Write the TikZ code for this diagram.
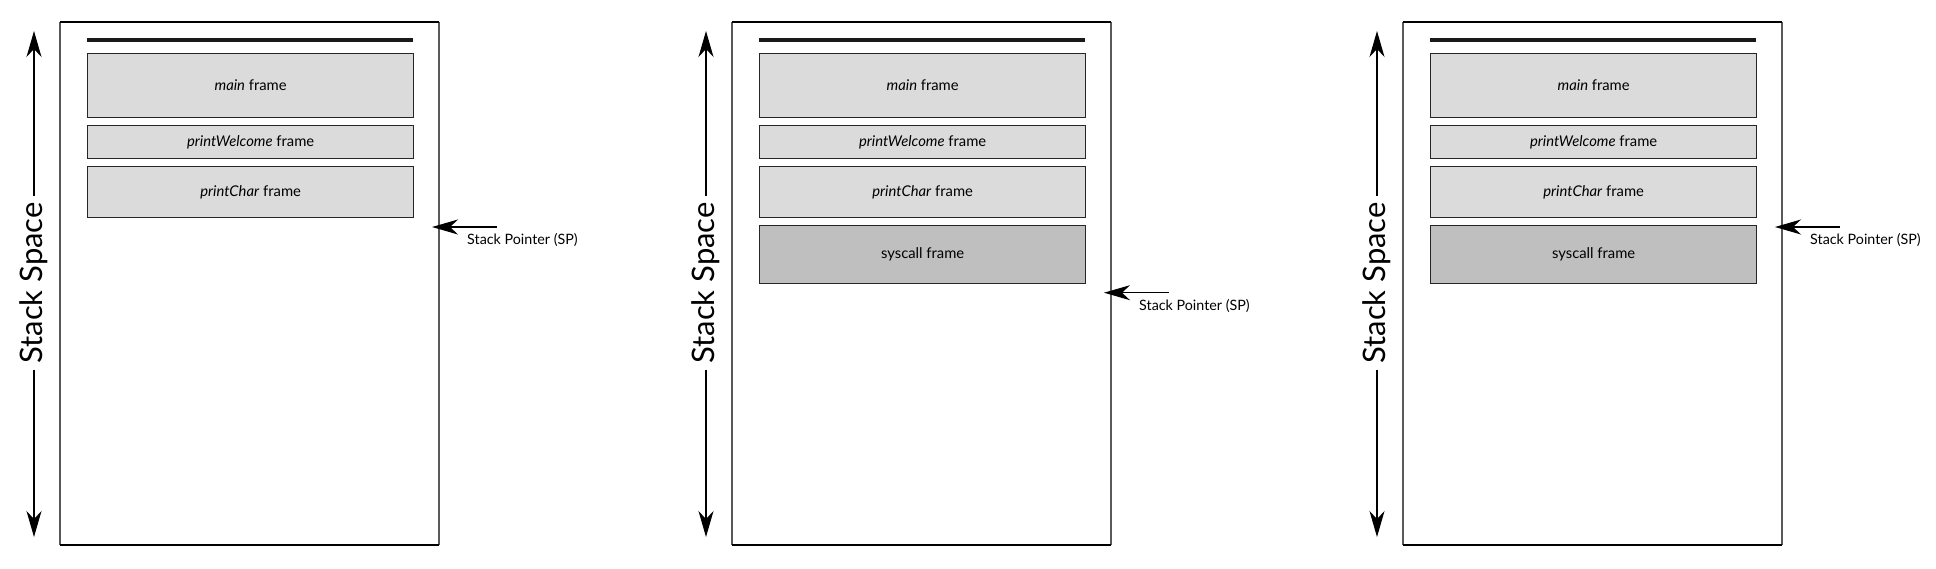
\documentclass[tikz,border=0pt]{standalone}
\usepackage{fontspec}
\setmainfont{Lato}
\usetikzlibrary{arrows.meta}

\begin{document}
\begin{tikzpicture}[x=1pt,y=1pt,
    frame/.style={draw=black!85,line width=1.3pt,fill=black!14,minimum width=326pt,
        anchor=north west,inner sep=0pt,font=\fontsize{14.8}{17}\selectfont},
    sysframe/.style={frame,fill=black!25},
    tip/.style={-{Stealth[length=26pt,width=15pt,inset=8pt]},line width=1.2pt},
    sptext/.style={anchor=west,inner sep=0pt,font=\fontsize{14.3}{17}\selectfont},
    space/.style={rotate=90,inner sep=6pt,font=\fontsize{31}{35}\selectfont}]
    \useasboundingbox (0,0) rectangle (1936,-568);

    % First stage
    \begin{scope}
        \draw[black!65,line width=1.2pt] (60,-22) -- (60,-545) (439,-22) -- (439,-545);
        \draw[line width=2.2pt] (60,-22) -- (439,-22) (60,-545) -- (439,-545);
        \draw[black!90,line width=4pt] (87,-40) -- (413,-40);
        \node[frame,minimum height=64pt] (m1) at (87,-53) {\textit{main} frame};
        \node[frame,minimum height=33pt] (w1) at (87,-125) {\textit{printWelcome} frame};
        \node[frame,minimum height=51pt] (c1) at (87,-166) {\textit{printChar} frame};
        % stack pointer
        \coordinate (sp1) at (432,-227);
        \coordinate (st1) at (497,-227);
        \draw[tip] (st1) -- (sp1);
        \node[sptext] (spl1) at (467,-239.5) {Stack Pointer (SP)};
        % stack space
        \node[space] (ss1) at (34,-283) {Stack Space};
        \coordinate (up1) at (34,-31);
        \coordinate (dn1) at (34,-537);
        \draw[tip] (ss1.east) -- (up1);
        \draw[tip] (ss1.west) -- (dn1);
    \end{scope}

    % Second stage
    \begin{scope}[xshift=672pt]
        \draw[black!65,line width=1.2pt] (60,-22) -- (60,-545) (439,-22) -- (439,-545);
        \draw[line width=2.2pt] (60,-22) -- (439,-22) (60,-545) -- (439,-545);
        \draw[black!90,line width=4pt] (87,-40) -- (413,-40);
        \node[frame,minimum height=64pt] (m2) at (87,-53) {\textit{main} frame};
        \node[frame,minimum height=33pt] (w2) at (87,-125) {\textit{printWelcome} frame};
        \node[frame,minimum height=51pt] (c2) at (87,-166) {\textit{printChar} frame};
        \node[sysframe,minimum height=58pt] (s2) at (87,-225) {syscall frame};
        % stack pointer
        \coordinate (sp2) at (432,-292.7);
        \coordinate (st2) at (497,-292.7);
        \draw[tip] (st2) -- (sp2);
        \node[sptext] (spl2) at (467,-305.5) {Stack Pointer (SP)};
        % stack space
        \node[space] (ss2) at (34,-283) {Stack Space};
        \coordinate (up2) at (34,-31);
        \coordinate (dn2) at (34,-537);
        \draw[tip] (ss2.east) -- (up2);
        \draw[tip] (ss2.west) -- (dn2);
    \end{scope}

    % Third stage
    \begin{scope}[xshift=1343pt]
        \draw[black!65,line width=1.2pt] (60,-22) -- (60,-545) (439,-22) -- (439,-545);
        \draw[line width=2.2pt] (60,-22) -- (439,-22) (60,-545) -- (439,-545);
        \draw[black!90,line width=4pt] (87,-40) -- (413,-40);
        \node[frame,minimum height=64pt] (m3) at (87,-53) {\textit{main} frame};
        \node[frame,minimum height=33pt] (w3) at (87,-125) {\textit{printWelcome} frame};
        \node[frame,minimum height=51pt] (c3) at (87,-166) {\textit{printChar} frame};
        \node[sysframe,minimum height=58pt] (s3) at (87,-225) {syscall frame};
        % stack pointer
        \coordinate (sp3) at (432,-227);
        \coordinate (st3) at (497,-227);
        \draw[tip] (st3) -- (sp3);
        \node[sptext] (spl3) at (467,-239.5) {Stack Pointer (SP)};
        % stack space
        \node[space] (ss3) at (34,-283) {Stack Space};
        \coordinate (up3) at (34,-31);
        \coordinate (dn3) at (34,-537);
        \draw[tip] (ss3.east) -- (up3);
        \draw[tip] (ss3.west) -- (dn3);
    \end{scope}
\end{tikzpicture}
\end{document}
